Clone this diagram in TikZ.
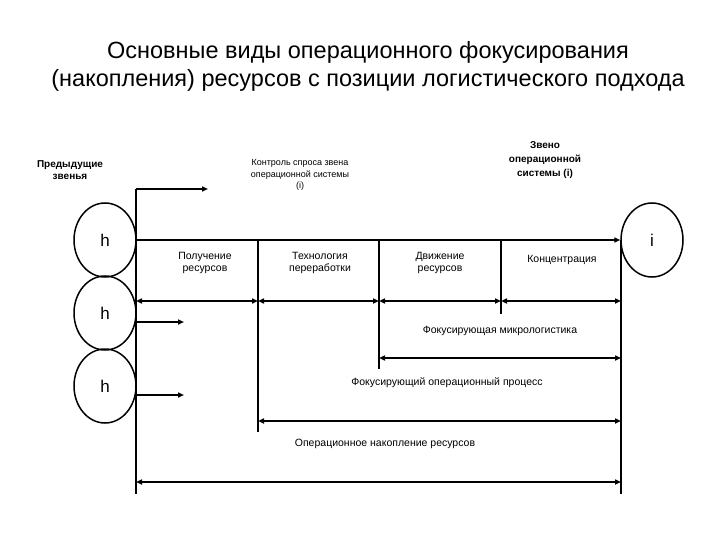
\documentclass[tikz,border=0pt]{standalone}
\usepackage{fontspec}
\setmainfont{Liberation Sans}
\usetikzlibrary{arrows.meta,shapes.geometric}
\begin{document}
\begin{tikzpicture}[x=1pt,y=-1pt,
  ln/.style={line width=1.8pt},
  arr/.style={line width=1.8pt,-{Triangle[length=6pt,width=5pt]}},
  darr/.style={line width=1.8pt,{Triangle[length=6pt,width=5pt]}-{Triangle[length=6pt,width=5pt]}},
  circ/.style={draw,line width=1.5pt,ellipse,minimum width=62pt,minimum height=74pt,inner sep=0pt,font=\fontsize{17}{18}\selectfont},
  lab/.style={align=center,font=\fontsize{10.5}{12.5}\selectfont},
  sm/.style={align=center,font=\fontsize{9}{11.5}\selectfont}]
\useasboundingbox (0,0) rectangle (720,540);
\node[align=center,font=\fontsize{23.5}{28}\selectfont] (title) at (368,66) {Основные виды операционного фокусирования\\(накопления) ресурсов с позиции логистического подхода};
\node[align=center,font=\bfseries\fontsize{10}{12.5}\selectfont] (prev) at (70,170) {Предыдущие\\звенья};
\node[sm] (ctrl) at (300,175) {Контроль спроса звена\\операционной системы\\(i)};
\node[align=center,font=\bfseries\fontsize{10}{14}\selectfont] (zveno) at (545,160) {Звено\\операционной\\системы (i)};
\node[circ] (h1) at (105,240) {h};
\node[circ] (h2) at (105,313) {h};
\node[circ] (h3) at (105,386) {h};
\node[circ] (i) at (652,240) {i};
% lines
\coordinate (Ltop) at (136,189);
\coordinate (Lbot) at (136,494);
\coordinate (Tend) at (208,189);
\coordinate (Rtop) at (621,240);
\coordinate (Rbot) at (621,494);
\coordinate (A) at (136,240);
\coordinate (D1t) at (258,240); \coordinate (D1b) at (258,432);
\coordinate (D2t) at (379,240); \coordinate (D2b) at (379,369);
\coordinate (D3t) at (501,240); \coordinate (D3b) at (501,314);
\draw[ln] (Ltop) -- (Lbot);
\draw[arr] (Ltop) -- (Tend);
\draw[arr] (A) -- (i.west);
\draw[ln] (Rtop) -- (Rbot);
\draw[ln] (D1t) -- (D1b);
\draw[ln] (D2t) -- (D2b);
\draw[ln] (D3t) -- (D3b);
\node[lab] (p1) at (205,263) {Получение\\ресурсов};
\node[lab] (p2) at (320,263) {Технология\\переработки};
\node[lab] (p3) at (440,263) {Движение\\ресурсов};
\node[lab] (p4) at (562,260) {Концентрация};
\coordinate (r0) at (136,301); \coordinate (r1) at (258,301); \coordinate (r2) at (379,301); \coordinate (r3) at (501,301); \coordinate (r4) at (621,301);
\draw[darr] (r0) -- (r1);
\draw[darr] (r1) -- (r2);
\draw[darr] (r2) -- (r3);
\draw[darr] (r3) -- (r4);
\coordinate (h2a) at (136,322); \coordinate (h2b) at (184,322);
\draw[arr] (h2a) -- (h2b);
\coordinate (h3a) at (136,395); \coordinate (h3b) at (184,395);
\draw[arr] (h3a) -- (h3b);
\node[lab] (m) at (500,331) {Фокусирующая микрологистика};
\coordinate (m0) at (379,358); \coordinate (m1) at (621,358);
\draw[darr] (m0) -- (m1);
\node[lab] (f) at (447,383) {Фокусирующий операционный процесс};
\coordinate (f0) at (258,421); \coordinate (f1) at (621,421);
\draw[darr] (f0) -- (f1);
\node[lab] (o) at (385,444) {Операционное накопление ресурсов};
\coordinate (o0) at (136,482); \coordinate (o1) at (621,482);
\draw[darr] (o0) -- (o1);
\end{tikzpicture}
\end{document}
